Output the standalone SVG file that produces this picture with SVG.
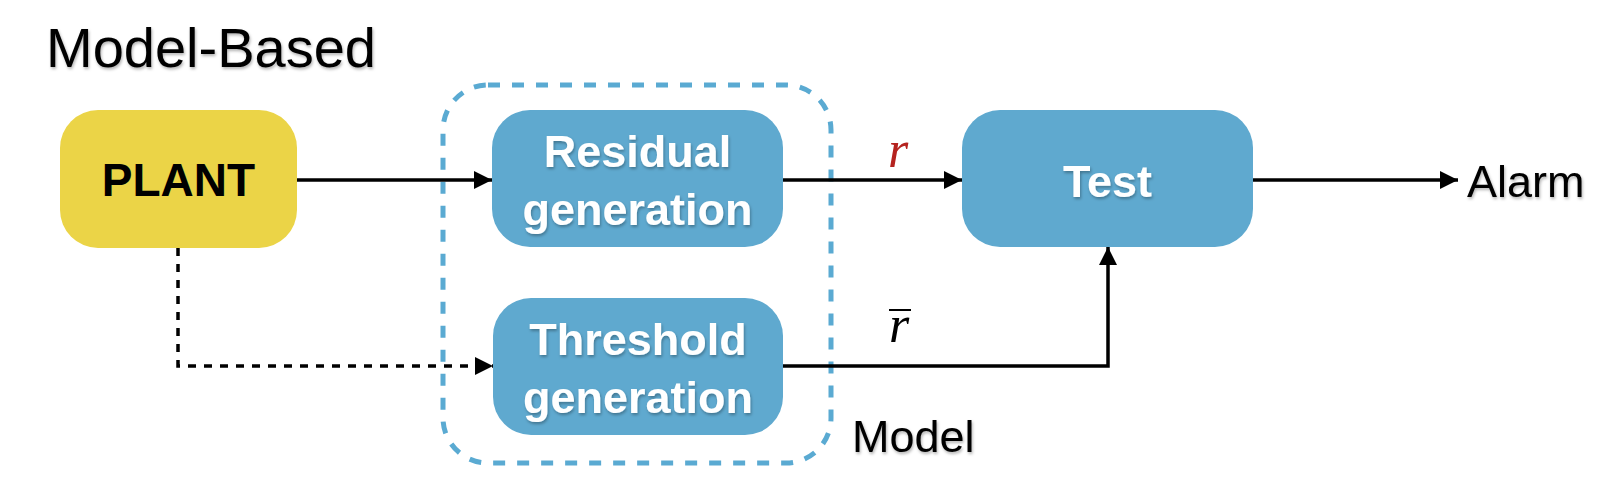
<svg xmlns="http://www.w3.org/2000/svg" width="1604" height="478" viewBox="0 0 1604 478">
<style>
  .box { fill: #5FA9CF; }
  .plant { fill: #EBD447; }
  .lbl { font-family: "Liberation Sans", Arial, sans-serif; font-weight: bold; font-size: 45px; fill: #ffffff; text-anchor: middle; filter: url(#sh); }
  .txt { font-family: "Liberation Sans", Arial, sans-serif; font-size: 45px; fill: #000000; filter: url(#sh); }
  .math { font-family: "Liberation Serif", "Times New Roman", serif; font-style: italic; font-size: 52px; text-anchor: middle; }
  .ln { fill: none; stroke: #000; stroke-width: 3.5; }
  .dash { stroke-dasharray: 8 8; }
</style>
<defs>
  <filter id="sh" x="-10%" y="-20%" width="120%" height="150%">
    <feDropShadow dx="1" dy="2" stdDeviation="1.5" flood-color="#000" flood-opacity="0.3"/>
  </filter>
  <marker id="ah" markerWidth="18" markerHeight="18" refX="18" refY="9" orient="auto" markerUnits="userSpaceOnUse">
    <path d="M0,0 L18,9 L0,18 Z" fill="#000"/>
  </marker>
</defs>
<rect width="1604" height="478" fill="#fff"/>

<text class="txt" x="46" y="67" font-size="56" style="font-size:56px">Model-Based</text>

<g id="model-group">
  <rect x="443" y="85" width="388" height="378" rx="45" fill="none" stroke="#5AAAD2" stroke-width="5" stroke-dasharray="12 12"/>
  <text class="txt" x="852" y="452">Model</text>
</g>

<g id="connectors">
  <line class="ln" x1="297" y1="180" x2="492" y2="180" marker-end="url(#ah)"/>
  <line class="ln" x1="783" y1="180" x2="962" y2="180" marker-end="url(#ah)"/>
  <line class="ln" x1="1253" y1="180" x2="1458" y2="180" marker-end="url(#ah)"/>
  <polyline class="ln dash" points="178,248 178,366 493,366" marker-end="url(#ah)"/>
  <polyline class="ln" points="783,366 1108,366 1108,247" marker-end="url(#ah)"/>
  <text class="math" x="898" y="167" fill="#B5231F">r</text>
  <text class="math" x="899" y="342" fill="#000">r</text>
  <line x1="889" y1="310" x2="911" y2="310" stroke="#000" stroke-width="2"/>
</g>

<g id="plant">
  <rect class="plant" x="60" y="110" width="237" height="138" rx="38"/>
  <text class="lbl" x="178.5" y="196" style="fill:#000; font-size:46px; filter:none">PLANT</text>
</g>

<g id="residual">
  <rect class="box" x="492" y="110" width="291" height="137" rx="38"/>
  <text class="lbl" x="637.5" y="167">Residual</text>
  <text class="lbl" x="637.5" y="225">generation</text>
</g>

<g id="threshold">
  <rect class="box" x="493" y="298" width="290" height="137" rx="38"/>
  <text class="lbl" x="638" y="355">Threshold</text>
  <text class="lbl" x="638" y="413">generation</text>
</g>

<g id="test">
  <rect class="box" x="962" y="110" width="291" height="137" rx="38"/>
  <text class="lbl" x="1107.5" y="197">Test</text>
</g>

<g id="alarm">
  <text class="txt" x="1467" y="197">Alarm</text>
</g>
</svg>
